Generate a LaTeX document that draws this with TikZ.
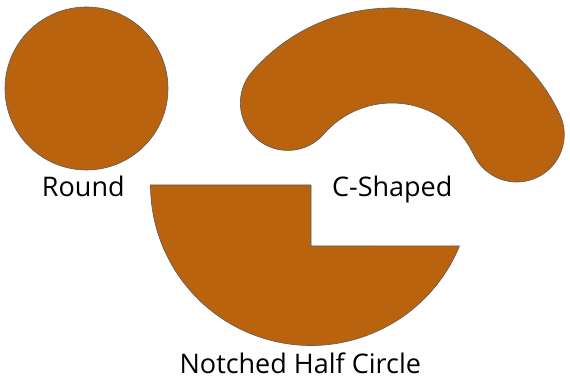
\documentclass[tikz,border=0pt]{standalone}
\usepackage{fontspec}
\setsansfont{Open Sans}
\definecolor{clay}{RGB}{185,99,15}
\definecolor{rim}{RGB}{90,90,90}

\begin{document}
\begin{tikzpicture}[
  x=1pt, y=1pt,
  font=\sffamily\fontsize{27}{30}\selectfont,
  shp/.style={fill=clay, draw=rim, line width=0.6pt, line join=round},
  lbl/.style={anchor=base, inner sep=0pt, text=black},
]
\useasboundingbox (0,0) rectangle (570,379);

% round
\path[shp] (86.5,290.5) circle[radius=81.5];

% c-shaped band
\path[shp, shift={(392,185.5)}] (139:185.5)
  arc[start angle=139, end angle=25.3, radius=185.5]
  arc[start angle=25.3, end angle=-154.7, radius=47.5]
  arc[start angle=25.3, end angle=139, radius=90.5]
  arc[start angle=-41, end angle=-221, radius=47.5] -- cycle;

% notched half circle
\path[shp, shift={(311,194)}] (180:160.5) -- (0,0) -- (0,-61) -- (-22.3:160.5)
  arc[start angle=-22.3, end angle=-180, radius=160.5] -- cycle;

\node[lbl] (round) at (83.3,182.3) {Round};
\node[lbl] (cshape) at (392.2,182.3) {C-Shaped};
\node[lbl] (notched) at (300.3,5.7) {Notched Half Circle};
\end{tikzpicture}
\end{document}
